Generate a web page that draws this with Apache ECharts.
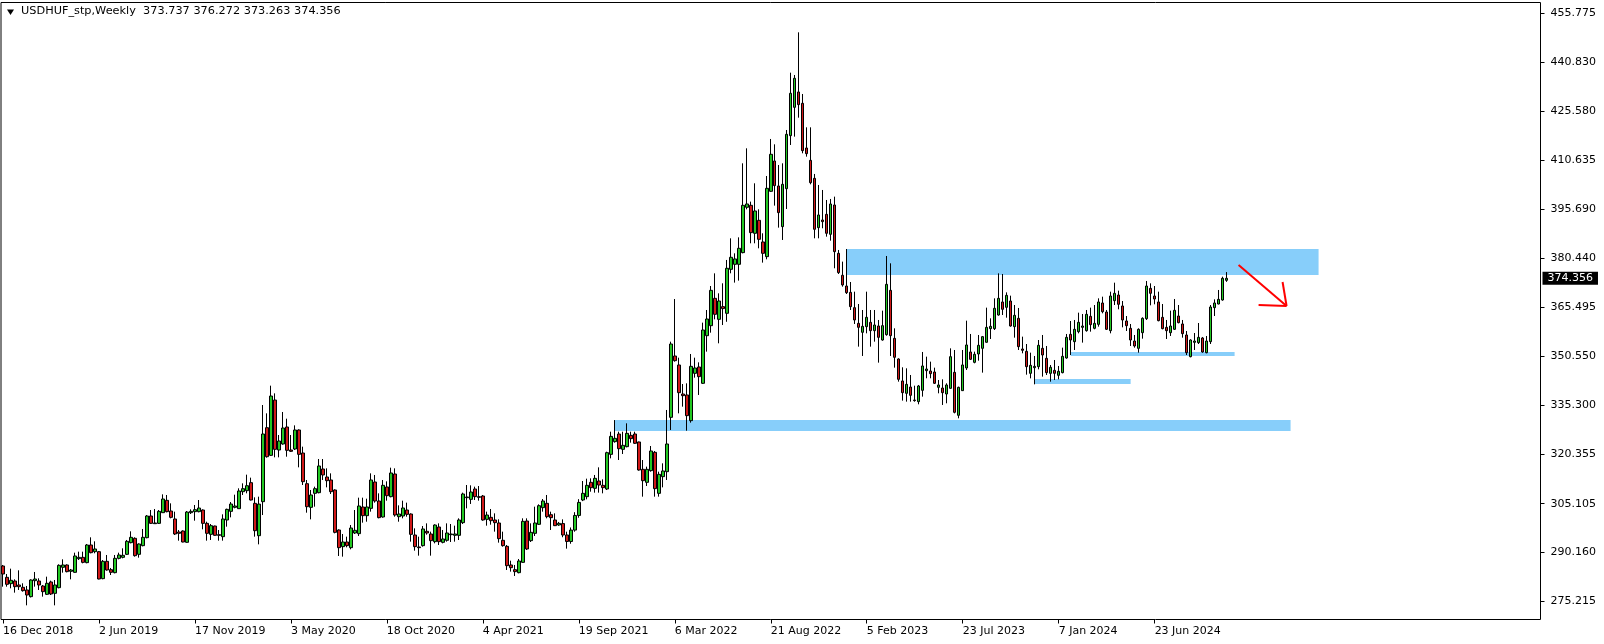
<!DOCTYPE html>
<html>
<head>
<meta charset="utf-8">
<script src="https://cdn.jsdelivr.net/npm/echarts@6/dist/echarts.min.js"></script>
<style>
html,body{margin:0;padding:0;background:#fff;}
#chart{width:1604px;height:644px;}
</style>
</head>
<body>
<div id="chart"></div>
<script>
// ---- Data (weekly bars, USDHUF_stp) ----
const startDate = '2018-12-16';
const opens = [285.97,282.49,280.54,281.36,280.13,279.42,278.60,276.55,281.46,281.36,279.82,277.26,281.06,277.57,279.31,285.56,286.28,284.33,284.02,288.22,288.63,287.00,292.42,290.37,290.37,282.08,287.40,284.84,283.92,288.32,288.63,289.55,293.14,294.47,289.55,292.22,294.67,301.33,298.97,299.07,302.35,306.14,302.86,300.41,296.41,296.72,293.24,302.35,302.66,302.66,303.17,299.07,295.69,298.25,295.59,294.98,300.10,302.76,303.99,303.58,308.80,309.11,311.57,305.22,295.28,305.73,328.46,319.96,336.96,321.60,323.45,328.67,321.60,321.91,327.75,320.68,311.26,303.99,308.29,308.50,315.77,313.31,312.39,309.32,297.03,291.91,293.34,291.60,296.11,295.90,304.09,301.43,303.68,311.77,305.94,301.02,310.24,307.27,314.23,301.12,301.33,303.17,301.94,295.49,291.81,292.22,296.62,295.80,293.45,297.95,293.24,293.86,295.59,295.39,295.39,299.28,306.96,306.45,309.62,307.27,307.47,300.30,300.92,300.10,299.18,293.86,292.01,286.28,284.84,283.92,287.09,299.79,293.75,296.00,298.77,303.89,305.22,301.73,300.10,298.56,299.00,295.50,293.50,297.00,301.50,306.24,307.27,311.67,309.83,312.08,310.75,309.62,320.27,324.17,326.52,321.81,322.63,326.11,326.52,324.07,315.67,311.67,315.26,320.89,308.29,313.42,314.95,331.64,350.48,347.72,338.81,338.51,330.62,345.16,347.11,342.09,356.73,359.80,368.20,361.75,365.65,363.60,377.12,378.65,378.65,382.24,396.17,396.78,388.18,392.17,385.52,381.01,401.08,410.40,402.72,390.23,401.90,418.18,426.88,431.60,428.12,414.39,410.60,405.07,389.92,392.27,394.01,387.87,396.88,382.03,375.28,371.99,370.04,365.34,360.52,357.76,359.50,360.83,358.27,359.71,355.40,357.04,370.66,355.91,349.57,342.81,339.02,340.96,336.97,336.46,339.94,345.98,345.88,345.57,340.86,340.65,338.81,340.55,345.47,332.26,339.84,346.80,351.72,348.54,351.10,352.84,354.69,358.89,358.89,363.08,367.08,365.44,367.38,359.50,362.06,352.64,351.92,345.16,346.90,347.21,352.84,349.77,345.16,346.08,344.55,345.37,349.87,357.14,354.89,357.96,359.29,358.27,362.67,358.99,360.21,366.77,363.99,358.27,367.48,369.22,365.85,361.24,358.99,355.09,352.84,357.65,361.95,371.27,368.92,367.08,362.37,359.29,357.65,358.68,362.77,360.32,356.94,350.28,354.68,354.58,356.02,351.51,354.89,365.34,366.46,367.69,373.737];
const highs = [286.28,283.51,285.15,281.87,284.64,280.65,279.83,281.87,284.13,282.18,280.13,282.69,281.46,281.67,286.48,288.02,286.48,285.05,290.06,290.37,290.37,292.73,294.78,293.55,290.58,287.81,289.35,285.36,289.35,290.06,291.40,293.96,296.62,294.78,292.93,297.34,301.63,303.17,303.48,303.17,307.98,307.78,305.22,302.66,297.03,296.92,302.86,303.37,304.71,306.24,303.37,299.58,298.87,298.36,297.03,301.84,303.58,305.63,307.88,309.83,311.36,314.03,313.11,307.06,307.27,335.43,332.87,341.37,339.01,326.21,333.28,331.23,326.21,329.18,327.95,322.63,312.39,309.32,310.34,318.84,318.84,315.97,314.43,309.52,297.23,295.80,294.98,298.56,303.17,306.96,306.96,306.65,314.43,313.93,308.29,312.39,311.98,316.18,315.97,304.60,306.04,305.43,302.14,297.54,294.98,298.25,299.07,296.52,298.77,299.07,297.03,299.07,298.87,298.36,300.61,308.50,310.85,310.75,310.34,310.54,307.78,302.66,303.48,302.14,300.30,296.52,292.42,287.60,286.28,288.12,300.61,300.61,299.07,304.19,304.91,306.55,307.78,302.66,302.14,299.50,300.30,296.50,297.80,302.50,306.50,312.08,312.80,312.90,313.93,316.28,312.59,321.09,327.23,330.80,327.23,327.23,329.80,327.23,327.23,324.17,318.53,316.49,322.83,321.30,314.95,317.51,333.90,354.89,367.99,349.97,341.88,342.09,351.10,349.97,348.54,360.73,364.62,371.99,375.88,369.74,372.82,379.99,386.64,382.03,386.94,409.68,414.29,397.91,403.54,395.55,388.18,405.79,417.16,415.52,409.17,409.68,419.92,437.53,436.82,449.93,430.98,420.74,420.74,406.41,403.03,401.49,398.42,398.73,399.44,383.06,379.48,383.36,373.22,370.25,366.46,364.62,370.25,364.62,364.62,361.55,364.42,381.21,378.96,358.99,349.77,347.01,346.70,344.65,341.37,341.58,351.72,350.28,348.75,346.90,343.11,343.32,342.09,352.84,352.33,341.06,352.33,361.34,357.25,351.82,356.94,356.63,365.34,362.06,368.20,375.88,375.68,370.04,369.02,366.15,365.24,356.43,354.17,351.51,350.49,355.40,356.94,353.56,347.72,349.26,347.42,353.05,357.25,361.24,361.55,363.80,363.39,364.62,365.34,366.15,368.20,368.71,364.62,370.25,373.01,370.56,367.38,362.77,360.32,356.94,358.99,362.37,373.53,372.81,371.99,370.25,366.46,361.55,364.42,368.00,366.15,361.55,358.17,355.61,357.55,360.62,356.33,356.63,366.15,367.89,370.77,374.86,376.272];
const lows = [279.62,279.62,279.11,277.78,278.60,278.09,273.88,276.30,279.62,278.60,276.55,277.06,277.06,273.88,279.11,283.92,284.02,281.87,283.92,287.81,286.79,286.80,289.86,289.86,281.87,281.90,284.54,283.20,283.72,288.02,288.32,289.35,292.93,288.84,288.53,292.01,294.47,298.87,298.87,298.87,302.30,302.45,300.61,295.49,293.75,293.24,293.10,301.94,299.89,302.45,297.23,293.75,293.95,295.28,293.75,293.75,298.05,300.92,303.69,303.50,307.78,308.29,306.10,294.98,292.62,301.63,319.25,319.76,319.35,319.35,323.24,319.55,320.99,321.60,316.28,310.85,302.35,300.30,304.19,308.29,312.39,310.13,308.09,296.00,289.04,288.84,291.70,291.09,295.80,295.18,299.28,299.58,302.66,305.43,300.61,300.82,306.04,307.06,301.12,299.58,300.61,301.12,293.45,290.68,289.14,291.91,295.59,289.14,292.93,292.42,292.93,293.45,293.34,293.45,293.95,298.87,303.68,305.02,306.24,306.04,299.89,298.36,298.66,296.52,293.14,291.91,284.74,284.23,282.90,283.72,286.99,290.88,293.34,295.18,298.56,302.66,300.61,297.03,298.25,298.30,294.80,291.30,292.80,296.50,300.80,305.90,306.45,308.80,308.50,308.50,308.29,309.32,319.04,323.86,318.53,320.37,322.42,323.86,323.45,315.26,307.27,310.54,314.95,307.27,307.27,310.13,312.39,327.75,348.74,332.87,334.92,327.54,330.01,343.83,338.51,341.88,351.82,357.65,361.75,354.38,360.00,361.00,375.89,373.03,373.64,382.03,395.55,385.11,385.11,383.57,379.17,380.19,400.88,396.68,389.92,386.13,395.65,415.31,417.87,423.71,412.76,411.73,403.23,386.64,386.64,389.72,387.15,385.92,377.43,375.68,371.79,369.53,364.62,360.32,353.36,350.49,357.45,353.36,354.89,348.44,355.20,356.73,350.49,346.90,342.60,336.77,336.46,336.46,336.46,335.64,338.00,343.63,343.63,341.88,339.02,335.44,335.95,340.45,332.87,331.34,339.74,346.19,349.26,348.24,349.05,345.37,354.59,355.71,358.47,362.88,363.08,362.26,359.50,356.12,352.33,351.31,344.75,343.62,341.78,346.39,344.14,344.65,342.60,343.11,343.32,345.16,349.66,350.79,352.33,357.45,354.59,357.96,357.96,358.68,359.50,363.59,358.47,357.45,366.15,364.83,359.29,358.17,353.56,353.05,351.51,355.81,361.55,366.05,366.36,361.14,358.68,355.71,356.63,358.47,360.52,356.12,350.79,350.08,352.33,354.17,351.51,351.31,354.17,362.77,366.36,367.48,373.263];
const closes = [283.51,280.34,281.57,279.62,279.62,278.39,277.06,281.67,281.97,280.13,278.08,280.65,277.37,280.13,286.17,286.28,284.23,284.74,289.04,288.63,287.09,292.42,290.06,291.19,281.97,287.40,284.74,284.02,288.32,289.35,289.25,293.55,294.78,289.14,292.73,294.78,301.33,299.07,299.18,302.76,306.55,302.66,300.92,295.80,296.00,293.34,302.55,302.76,303.27,303.78,299.07,296.00,298.36,295.39,295.39,300.41,303.37,305.01,304.40,309.01,309.72,310.64,306.24,296.82,304.99,326.52,319.55,338.19,321.81,324.37,328.36,321.50,321.20,327.75,320.27,311.87,304.19,307.78,309.72,316.69,313.93,312.18,308.80,296.31,291.60,293.34,292.22,297.64,296.93,304.40,301.43,304.09,312.39,305.94,300.82,310.75,307.57,314.54,301.63,301.94,303.79,301.84,295.69,291.91,291.60,297.34,296.11,293.75,298.56,293.45,294.27,296.11,295.80,295.80,300.10,308.09,307.17,308.70,307.27,307.06,300.10,301.63,299.89,299.28,294.37,292.22,286.07,285.46,284.23,287.50,299.69,291.19,296.31,299.18,304.50,305.94,301.12,300.82,298.36,299.07,295.50,293.50,297.00,301.50,305.50,308.29,310.75,310.03,312.90,310.85,310.03,320.78,325.80,325.19,322.01,323.04,326.72,325.09,323.66,315.46,312.18,315.67,321.30,309.73,314.13,315.16,323.45,354.17,349.05,339.22,338.30,332.16,347.31,346.80,344.14,358.47,361.85,370.66,363.29,367.38,365.04,377.43,380.81,380.30,383.57,396.78,397.19,388.38,395.04,386.33,382.03,402.00,412.45,402.82,394.53,403.23,418.59,431.19,435.80,427.71,413.57,412.65,403.74,389.41,393.81,391.76,388.18,397.19,382.55,376.10,372.31,369.94,365.65,361.55,359.29,359.60,362.37,358.27,360.01,356.22,359.81,372.50,356.73,350.08,343.32,339.22,341.78,338.40,336.77,341.27,347.42,346.49,345.06,342.09,341.58,339.22,341.58,350.28,333.18,340.86,347.73,353.87,349.46,351.00,353.77,356.43,359.29,359.60,365.14,368.20,364.83,369.12,359.70,362.98,353.36,352.23,347.21,347.62,347.31,353.77,350.79,345.37,347.01,345.16,345.78,350.38,356.22,355.40,358.68,360.83,359.70,363.29,360.11,360.52,367.08,364.10,358.68,368.92,369.74,366.36,361.55,359.80,355.40,353.56,358.68,362.06,371.99,369.74,367.99,361.34,358.89,358.27,359.70,364.52,360.73,357.35,351.51,355.40,355.09,356.22,351.72,355.09,365.54,366.77,367.89,374.35,374.356];

// time-axis tick labels (one every 24 weeks)
const dateLabels = ['16 Dec 2018','2 Jun 2019','17 Nov 2019','3 May 2020','18 Oct 2020','4 Apr 2021','19 Sep 2021','6 Mar 2022','21 Aug 2022','5 Feb 2023','23 Jul 2023','7 Jan 2024','23 Jun 2024'];
// price-axis tick labels
const priceTicks = [275.215,290.160,305.105,320.355,335.300,350.550,365.495,380.440,395.690,410.635,425.580,440.830,455.775];
// drawn rectangles: [startBar, endBar, top, bottom]
const zones = [
  [211.1, 329.1, 383.36, 375.37],
  [153.1, 322.1, 330.82, 327.44],
  [267.1, 308.1, 351.71, 350.49],
  [258.1, 282.1, 343.42, 341.88]
];
// drawn arrow: segments [barA, priceA, barB, priceB]
const arrowSegs = [
  [308.6, 378.44, 320.9, 365.84],
  [313.6, 366.15, 320.9, 365.84],
  [319.9, 373.22, 320.9, 365.84]
];
const symbol = 'USDHUF_stp,Weekly';
const futureBars = 78;

// ---- build ----
const nBars = opens.length;
const total = nBars + futureBars;
const categories = [];
const t0 = Date.parse(startDate + 'T00:00:00Z');
for (let i = 0; i < total; i++) {
  const d = new Date(t0 + i * 7 * 86400000);
  categories.push(d.toISOString().slice(0, 10));
}
const candles = opens.map((o, i) => [o, closes[i], lows[i], highs[i]]);
const last = nBars - 1;
const headerText = symbol + '  ' + opens[last].toFixed(3) + ' ' + highs[last].toFixed(3) + ' ' +
  lows[last].toFixed(3) + ' ' + closes[last].toFixed(3);

const FONT = 'DejaVu Sans';
const Y_MIN = 269.53, Y_MAX = 459.09;
const labelIdx = (idx) => idx % 24 === 0 && (idx / 24) < dateLabels.length;

const markLineData = arrowSegs.map(s => [
  { coord: [s[0], s[1]] },
  { coord: [s[2], s[3]] }
]);

const chart = echarts.init(document.getElementById('chart'), null, { renderer: 'canvas' });
chart.setOption({
  animation: false,
  backgroundColor: '#ffffff',
  grid: {
    left: 0.5, right: 63.5, top: 2.5, bottom: 24.5,
    show: true, borderColor: '#000', borderWidth: 1, backgroundColor: 'transparent'
  },
  xAxis: {
    type: 'category',
    data: categories,
    boundaryGap: true,
    axisLine: { show: false },
    axisTick: { show: true, alignWithLabel: true, interval: labelIdx, length: 4, lineStyle: { color: '#000' } },
    axisLabel: {
      interval: labelIdx,
      formatter: (v, idx) => dateLabels[idx / 24],
      align: 'left', margin: 6,
      color: '#000', fontFamily: FONT, fontSize: 11
    },
    splitLine: { show: false }
  },
  yAxis: [{
    type: 'value',
    position: 'right',
    min: Y_MIN, max: Y_MAX,
    axisLine: { show: false },
    axisTick: { show: true, customValues: priceTicks, length: 4, lineStyle: { color: '#000' } },
    axisLabel: {
      customValues: priceTicks,
      formatter: (v) => v.toFixed(3),
      margin: 10, color: '#000', fontFamily: FONT, fontSize: 11
    },
    splitLine: { show: false }
  }, {
    type: 'value',
    position: 'right',
    min: Y_MIN, max: Y_MAX,
    axisLine: { show: false },
    axisTick: { show: false },
    axisLabel: {
      customValues: [closes[last]],
      formatter: (v) => v.toFixed(3),
      margin: 2, color: '#fff', backgroundColor: '#000',
      padding: [1, 5, 1, 5], fontFamily: FONT, fontSize: 11
    },
    splitLine: { show: false }
  }],
  graphic: [
    { type: 'polygon', shape: { points: [[7, 9.5], [14, 9.5], [10.5, 15]] }, style: { fill: '#000' } },
    { type: 'text', left: 21, top: 6, style: { text: headerText, fill: '#000', font: '11.3px "DejaVu Sans"' } }
  ],
  series: [{
    type: 'candlestick',
    data: candles,
    barWidth: 3,
    itemStyle: {
      color: '#22c822', color0: '#d01818',
      borderColor: '#000', borderColor0: '#000', borderWidth: 1
    },
    markArea: {
      silent: true,
      itemStyle: { color: '#87cefa', opacity: 1 },
      data: zones.map(z => [{ coord: [z[0], z[2]] }, { coord: [z[1], z[3]] }])
    },
    markLine: {
      silent: true, symbol: 'none', animation: false,
      label: { show: false },
      lineStyle: { color: '#ff0000', width: 2, type: 'solid', opacity: 1 },
      data: markLineData
    },
    z: 3
  }]
});
</script>
</body>
</html>
